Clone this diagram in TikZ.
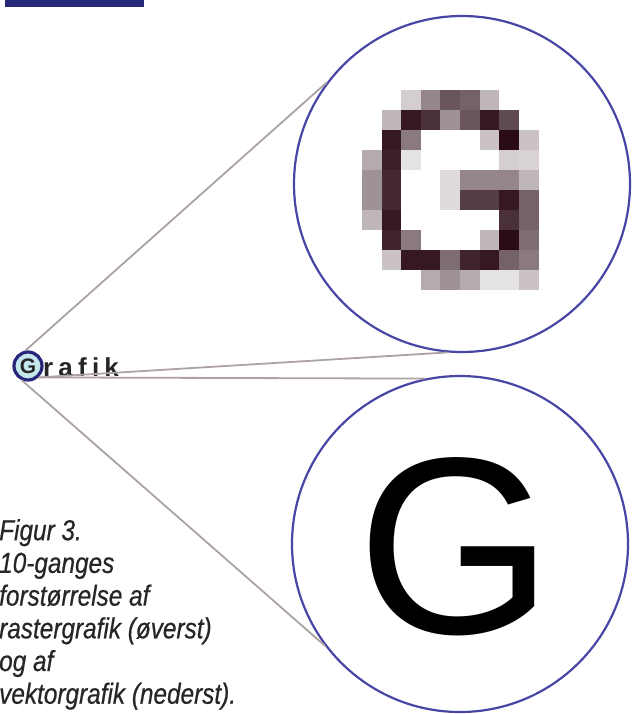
\documentclass[tikz,border=0pt]{standalone}
\usepackage{fontspec}
\setmainfont{Liberation Sans}
\newfontfamily\capfont[FakeStretch=0.84, FakeBold=0.5]{Liberation Sans}
\newfontfamily\spacedfont[LetterSpace=20]{Liberation Sans}
\usepackage{tikz}
\usetikzlibrary{positioning}
\definecolor{ringblue}{RGB}{72, 70, 165}
\definecolor{navyblue}{RGB}{38, 38, 122}
\definecolor{linegray}{RGB}{172, 162, 164}
\definecolor{pixdark}{RGB}{42, 12, 24}
\definecolor{palecyan}{RGB}{196, 232, 236}
\definecolor{textgray}{RGB}{38, 38, 38}

\tikzset{
  lens/.style={circle, draw=ringblue, line width=2.2pt, minimum size=336pt, inner sep=0pt},
  ray/.style={draw=linegray, line width=1.8pt},
  marker/.style={circle, draw=navyblue, fill=palecyan, line width=3.2pt, minimum size=28pt, inner sep=0pt,
    text=textgray, font=\bfseries\fontsize{21}{21}\selectfont},
}

\begin{document}
\begin{tikzpicture}[x=1pt, y=-1pt]
    \useasboundingbox (0,0) rectangle (633,714);
    \fill[navyblue] (5,0) rectangle (144,7);

    % raster G, 9 x 10 pixels
    \foreach \rowvals [count=\r from 0] in {
        {0,0,20,50,70,65,30,0,0},
        {0,30,95,85,45,70,95,75,0},
        {0,95,55,0,0,0,25,100,25},
        {35,92,12,0,0,0,0,20,18},
        {45,88,0,0,15,50,50,50,30},
        {45,88,0,0,15,80,80,95,65},
        {30,95,0,0,0,0,0,85,65},
        {0,90,55,0,0,0,30,100,60},
        {0,25,95,95,60,90,95,65,55},
        {0,0,0,35,45,35,12,12,25}}{
        \foreach \v [count=\c from 0] in \rowvals {
            \ifnum\v>0
                \fill[pixdark!\v] (362+19.6*\c, 90+20*\r) rectangle ++(19.8,20.2);
            \fi
        }
    }

    \node[lens] (raster) at (462,184) {};
    \node[lens] (vector) at (460,544) {};
    \node[inner sep=0pt, anchor=base, font=\fontsize{252}{252}\selectfont] (bigg) at (456,633) {G};

    \node[marker] (gsmall) at (28,366) {G};
    \node[anchor=base west, inner sep=0pt, text=textgray, font=\spacedfont\bfseries\fontsize{26}{26}\selectfont] (word) at (43,376) {rafik};

    \draw[ray] (gsmall.100) -- (raster.143);
    \draw[ray] (gsmall.313) -- (raster.265);
    \draw[ray] (gsmall.313) -- (vector.102);
    \draw[ray] (gsmall.247) -- (vector.217);

    \node[anchor=north west, align=left, inner sep=0pt, text=textgray,
          font=\capfont\itshape\fontsize{29}{32.7}\selectfont] (caption) at (-1,519)
        {Figur 3.\\10-ganges\\forstørrelse af\\rastergrafik (øverst)\\og af\\vektorgrafik (nederst).};
\end{tikzpicture}
\end{document}
